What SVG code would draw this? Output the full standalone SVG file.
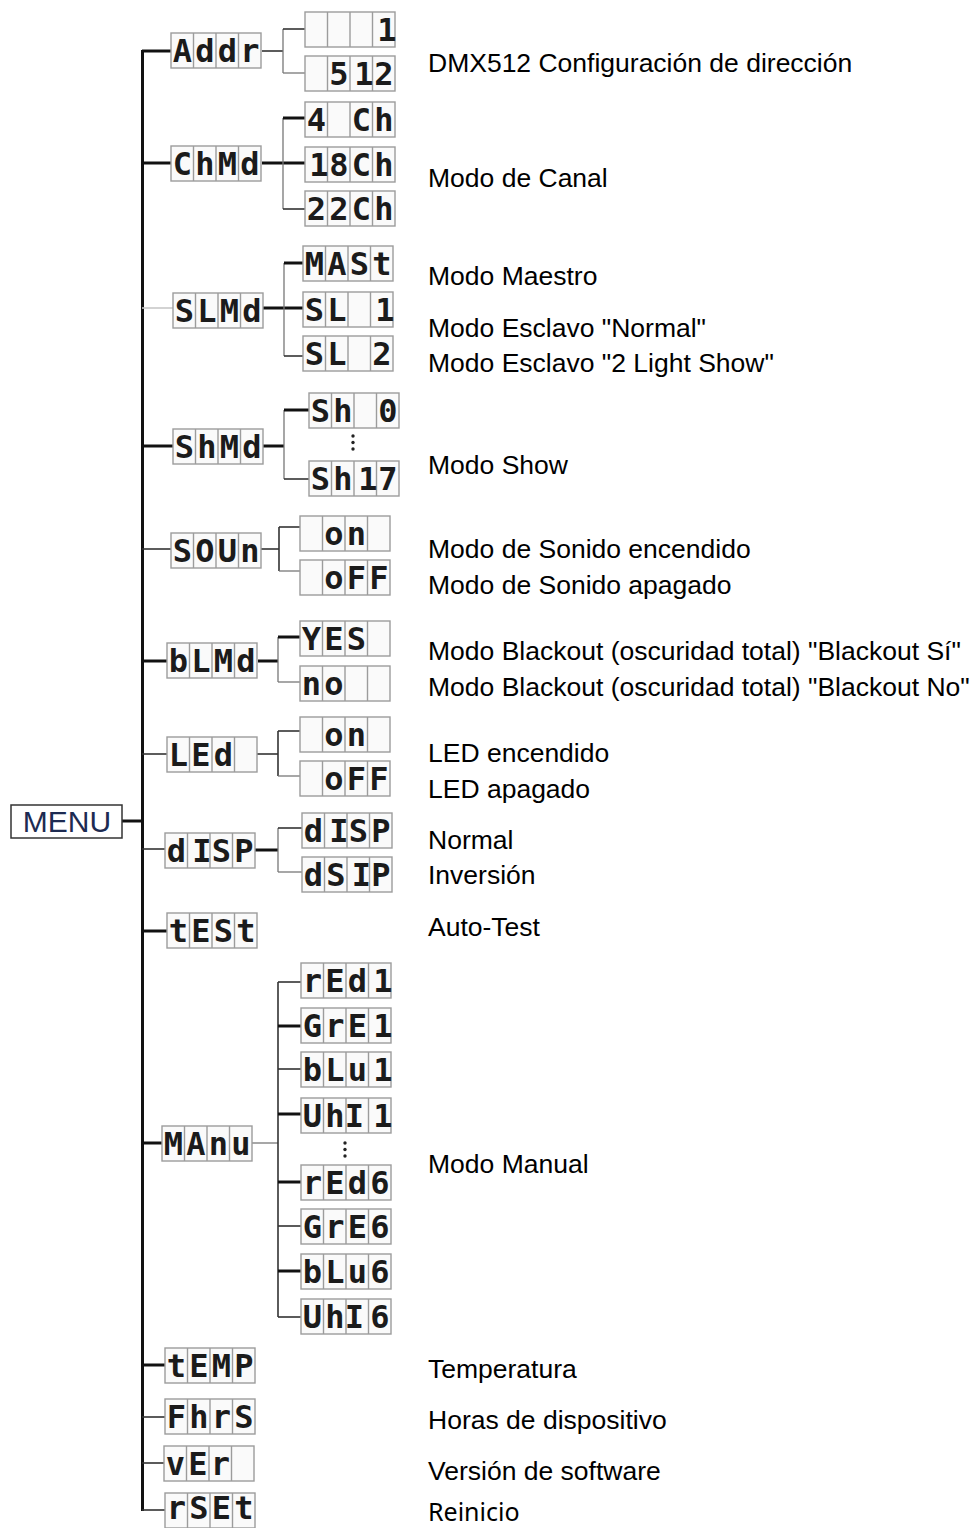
<svg xmlns="http://www.w3.org/2000/svg" xmlns:xlink="http://www.w3.org/1999/xlink" width="973" height="1528" viewBox="0 0 973 1528">
<style>
.cell{fill:#fafafa;stroke:#9c9c9c;stroke-width:1.4}
.div{stroke:#9c9c9c;stroke-width:1.4;fill:none}
.seg{font-family:"DejaVu Sans Mono",monospace;font-weight:bold;font-size:32px;fill:#1b1b1b;text-anchor:middle}
.lbl{font-family:"Liberation Sans",Arial,sans-serif;font-size:26.5px;fill:#000}
.thick{stroke:#111;stroke-width:3;fill:none}
.thin{stroke:#333;stroke-width:1.6;fill:none}
.grey{stroke:#777;stroke-width:1.3;fill:none}
.pale{stroke:#c8c8c8;stroke-width:1.6;fill:none}
.dot{fill:#222}
</style>
<defs>
<g id="lcd"><rect x="0" y="0" width="90" height="35" class="cell"/><path class="div" d="M22.5 0V35M45 0V35M67.5 0V35"/></g>
</defs>
<rect width="973" height="1528" fill="#fff"/>

<g id="connectors">
<path class="thick" d="M142.5 50V1511" stroke-width="3.4"/>
<path class="thick" d="M122 821H142"/>
<path class="thick" d="M142 51H171"/>
<path class="thick" d="M142 163H171"/>
<path class="pale" d="M142 308H173"/>
<path class="thick" d="M142 446H173"/>
<path class="thin" d="M142 549H171"/>
<path class="thick" d="M142 661H167"/>
<path class="thin" d="M142 754H167" stroke-width="2.2"/>
<path class="thin" d="M142 849H165"/>
<path class="thick" d="M142 931H167"/>
<path class="thick" d="M142 1143H162"/>
<path class="thick" d="M142 1365H165"/>
<path class="thin" d="M142 1417H165"/>
<path class="thin" d="M142 1463H164"/>
<path class="thin" d="M142 1510H165" stroke-width="2.2"/>

<path class="thin" d="M262 51H283"/>
<path class="grey" d="M283 29V73"/>
<path class="thin" d="M283 29H305"/>
<path class="grey" d="M283 73H305"/>

<path class="thick" d="M262 163H305"/>
<path class="grey" d="M283 118V209"/>
<path class="thick" d="M283 118H305"/>
<path class="thin" d="M283 209H305"/>

<path class="thick" d="M262 308H303"/>
<path class="grey" d="M284 263V356"/>
<path class="thick" d="M284 263H303"/>
<path class="thin" d="M284 356H303"/>

<path class="thick" d="M262 446H284"/>
<path class="grey" d="M284 410V479"/>
<path class="thick" d="M284 410H309"/>
<path class="thin" d="M284 479H309"/>

<path class="thin" d="M260 549H279"/>
<path class="thin" d="M279 527V571"/>
<path class="thin" d="M279 527H300"/>
<path class="grey" d="M279 571H300"/>

<path class="thick" d="M258 661H278"/>
<path class="grey" d="M278 637V682"/>
<path class="thick" d="M278 637H300"/>
<path class="grey" d="M278 682H300"/>

<path class="thin" d="M256 754H278"/>
<path class="thin" d="M278 731V776"/>
<path class="thin" d="M278 731H300"/>
<path class="grey" d="M278 776H300"/>

<path class="thick" d="M254 850H278"/>
<path class="grey" d="M278 828V872"/>
<path class="thin" d="M278 828H302"/>
<path class="grey" d="M278 872H302"/>

<path class="grey" d="M252 1143H278"/>
<path class="thin" d="M278 982V1317"/>
<path class="thin" d="M278 982H301"/>
<path class="thick" d="M278 1026H301"/>
<path class="thin" d="M278 1069H301" stroke-width="2.2"/>
<path class="thick" d="M278 1114H301"/>
<path class="thick" d="M278 1182H301"/>
<path class="thin" d="M278 1226H301"/>
<path class="thick" d="M278 1271H301"/>
<path class="thin" d="M278 1317H301"/>

<circle class="dot" cx="353" cy="436" r="1.7"/>
<circle class="dot" cx="353" cy="442.5" r="1.7"/>
<circle class="dot" cx="353" cy="449" r="1.7"/>
<circle class="dot" cx="345" cy="1143" r="1.7"/>
<circle class="dot" cx="345" cy="1149.5" r="1.7"/>
<circle class="dot" cx="345" cy="1156" r="1.7"/>
</g>

<g id="menu"><rect x="11" y="805" width="111" height="33" fill="#fff" stroke="#333" stroke-width="1.5"/><text x="67" y="832" text-anchor="middle" font-family="Liberation Sans, Arial, sans-serif" font-size="30" fill="#1d2b52">MENU</text></g>

<g id="addr"><use xlink:href="#lcd" x="171" y="33"/><text class="seg" x="182.3 204.8 227.3 249.8" y="62">Addr</text></g>
<g id="chmd"><use xlink:href="#lcd" x="171" y="146"/><text class="seg" x="182.3 204.8 227.3 249.8" y="175">ChMd</text></g>
<g id="slmd"><use xlink:href="#lcd" x="173" y="293"/><text class="seg" x="184.3 206.8 229.3 251.8" y="322">SLMd</text></g>
<g id="shmd"><use xlink:href="#lcd" x="173" y="429"/><text class="seg" x="184.3 206.8 229.3 251.8" y="458">ShMd</text></g>
<g id="soun"><use xlink:href="#lcd" x="171" y="533"/><text class="seg" x="182.3 204.8 227.3 249.8" y="562">SOUn</text></g>
<g id="blmd"><use xlink:href="#lcd" x="167" y="643"/><text class="seg" x="178.3 200.8 223.3 245.8" y="672">bLMd</text></g>
<g id="led"><use xlink:href="#lcd" x="167" y="737"/><text class="seg" x="178.3 200.8 223.3" y="766">LEd</text></g>
<g id="disp"><use xlink:href="#lcd" x="165" y="833"/><text class="seg" x="176.3 201.8 221.3 243.8" y="862">dISP</text></g>
<g id="test"><use xlink:href="#lcd" x="167" y="913"/><text class="seg" x="178.3 200.8 223.3 245.8" y="942">tESt</text></g>
<g id="manu"><use xlink:href="#lcd" x="162" y="1126"/><text class="seg" x="173.3 195.8 218.3 240.8" y="1155">MAnu</text></g>
<g id="temp"><use xlink:href="#lcd" x="165" y="1348"/><text class="seg" x="176.3 198.8 221.3 243.8" y="1377">tEMP</text></g>
<g id="fhrs"><use xlink:href="#lcd" x="165" y="1399"/><text class="seg" x="176.3 198.8 221.3 243.8" y="1428">FhrS</text></g>
<g id="ver"><use xlink:href="#lcd" x="164" y="1446"/><text class="seg" x="175.3 197.8 220.3" y="1475">vEr</text></g>
<g id="rset"><use xlink:href="#lcd" x="165" y="1493"/><text class="seg" x="176.3 198.8 221.3 243.8" y="1519">rSEt</text></g>

<g id="addr-1"><use xlink:href="#lcd" x="305" y="12"/><text class="seg" x="387" y="41">1</text></g>
<g id="addr-512"><use xlink:href="#lcd" x="305" y="56"/><text class="seg" x="338.8 364 383.8" y="85">512</text></g>
<g id="ch4"><use xlink:href="#lcd" x="305" y="102"/><text class="seg" x="316.3 361.3 383.8" y="131">4Ch</text></g>
<g id="ch18"><use xlink:href="#lcd" x="305" y="147"/><text class="seg" x="319 338.8 361.3 383.8" y="176">18Ch</text></g>
<g id="ch22"><use xlink:href="#lcd" x="305" y="191"/><text class="seg" x="316.3 338.8 361.3 383.8" y="220">22Ch</text></g>
<g id="mast"><use xlink:href="#lcd" x="303" y="246"/><text class="seg" x="314.3 336.8 359.3 381.8" y="275">MASt</text></g>
<g id="sl1"><use xlink:href="#lcd" x="303" y="292"/><text class="seg" x="314.3 336.8 385" y="321">SL1</text></g>
<g id="sl2"><use xlink:href="#lcd" x="303" y="336"/><text class="seg" x="314.3 336.8 381.8" y="365">SL2</text></g>
<g id="sh0"><use xlink:href="#lcd" x="309" y="393"/><text class="seg" x="320.3 342.8 387.8" y="422">Sh0</text></g>
<g id="sh17"><use xlink:href="#lcd" x="309" y="461"/><text class="seg" x="320.3 342.8 368 387.8" y="490">Sh17</text></g>
<g id="son"><use xlink:href="#lcd" x="300" y="516"/><text class="seg" x="333.8 356.3" y="545">on</text></g>
<g id="soff"><use xlink:href="#lcd" x="300" y="560"/><text class="seg" x="333.8 356.3 378.8" y="589">oFF</text></g>
<g id="yes"><use xlink:href="#lcd" x="300" y="621"/><text class="seg" x="311.3 333.8 356.3" y="650">YES</text></g>
<g id="no"><use xlink:href="#lcd" x="300" y="666"/><text class="seg" x="311.3 333.8" y="695">no</text></g>
<g id="lon"><use xlink:href="#lcd" x="300" y="717"/><text class="seg" x="333.8 356.3" y="746">on</text></g>
<g id="loff"><use xlink:href="#lcd" x="300" y="761"/><text class="seg" x="333.8 356.3 378.8" y="790">oFF</text></g>
<g id="disp-n"><use xlink:href="#lcd" x="302" y="813"/><text class="seg" x="313.3 338.8 358.3 380.8" y="842">dISP</text></g>
<g id="disp-i"><use xlink:href="#lcd" x="302" y="857"/><text class="seg" x="313.3 335.8 361.3 380.8" y="886">dSIP</text></g>
<g id="red1"><use xlink:href="#lcd" x="301" y="963"/><text class="seg" x="312.3 334.8 357.3 382.8" y="992">rEd1</text></g>
<g id="gre1"><use xlink:href="#lcd" x="301" y="1008"/><text class="seg" x="312.3 334.8 357.3 382.8" y="1037">GrE1</text></g>
<g id="blu1"><use xlink:href="#lcd" x="301" y="1052"/><text class="seg" x="312.3 334.8 357.3 382.8" y="1081">bLu1</text></g>
<g id="uhi1"><use xlink:href="#lcd" x="301" y="1098"/><text class="seg" x="312.3 334.8 354.3 382.8" y="1127">UhI1</text></g>
<g id="red6"><use xlink:href="#lcd" x="301" y="1165"/><text class="seg" x="312.3 334.8 357.3 379.8" y="1194">rEd6</text></g>
<g id="gre6"><use xlink:href="#lcd" x="301" y="1209"/><text class="seg" x="312.3 334.8 357.3 379.8" y="1238">GrE6</text></g>
<g id="blu6"><use xlink:href="#lcd" x="301" y="1254"/><text class="seg" x="312.3 334.8 357.3 379.8" y="1283">bLu6</text></g>
<g id="uhi6"><use xlink:href="#lcd" x="301" y="1299"/><text class="seg" x="312.3 334.8 354.3 379.8" y="1328">UhI6</text></g>

<g id="labels">
<text class="lbl" x="428" y="72" font-size="24">DMX512 Configuración de dirección</text>
<text class="lbl" x="428" y="187">Modo de Canal</text>
<text class="lbl" x="428" y="285">Modo Maestro</text>
<text class="lbl" x="428" y="337">Modo Esclavo "Normal"</text>
<text class="lbl" x="428" y="372">Modo Esclavo "2 Light Show"</text>
<text class="lbl" x="428" y="474">Modo Show</text>
<text class="lbl" x="428" y="558">Modo de Sonido encendido</text>
<text class="lbl" x="428" y="594">Modo de Sonido apagado</text>
<text class="lbl" x="428" y="660">Modo Blackout (oscuridad total) "Blackout Sí"</text>
<text class="lbl" x="428" y="696">Modo Blackout (oscuridad total) "Blackout No"</text>
<text class="lbl" x="428" y="762">LED encendido</text>
<text class="lbl" x="428" y="798">LED apagado</text>
<text class="lbl" x="428" y="849">Normal</text>
<text class="lbl" x="428" y="884">Inversión</text>
<text class="lbl" x="428" y="936">Auto-Test</text>
<text class="lbl" x="428" y="1173">Modo Manual</text>
<text class="lbl" x="428" y="1378">Temperatura</text>
<text class="lbl" x="428" y="1429">Horas de dispositivo</text>
<text class="lbl" x="428" y="1480">Versión de software</text>
<text x="428" y="1521" font-family="Noto Sans, sans-serif" font-size="25" fill="#000">Reinicio</text>
</g>
</svg>
